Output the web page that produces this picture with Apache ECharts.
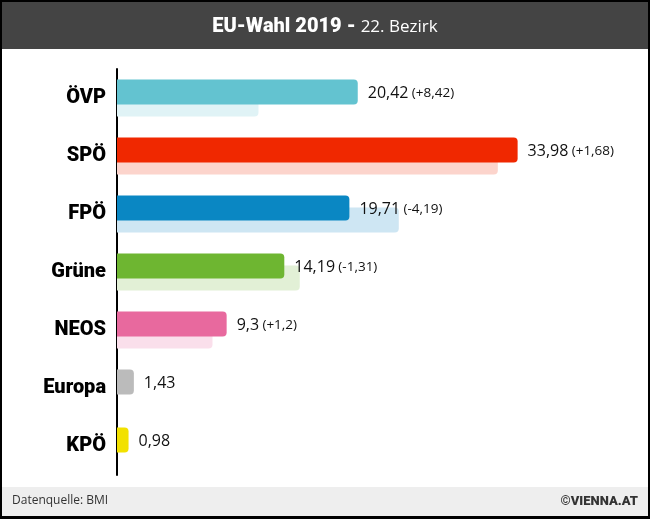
<!DOCTYPE html>
<html>
<head>
<meta charset="utf-8">
<script src="https://cdn.jsdelivr.net/npm/echarts@6/dist/echarts.min.js"></script>
<style>
html,body{margin:0;padding:0;background:#000;}
#c{width:650px;height:519px;}
</style>
</head>
<body>
<div id="c"></div>
<script>
// ---- data ----
var categories = ['ÖVP', 'SPÖ', 'FPÖ', 'Grüne', 'NEOS', 'Europa', 'KPÖ'];
var values2019 = [20.42, 33.98, 19.71, 14.19, 9.3, 1.43, 0.98];
var changeLabels = ['+8,42', '+1,68', '-4,19', '-1,31', '+1,2', null, null];
var previousValues = [12.00, 32.30, 23.90, 15.50, 8.10, null, null];
var mainColors = ['#63C3D0', '#F02800', '#0A87C3', '#6EB631', '#E8699E', '#BBBBBB', '#F2E100'];
var lightColors = ['#E0F3F6', '#FCD4CC', '#CEE6F3', '#E2F0D6', '#FADFEB', '#EEEEEE', '#FCF8CC'];

var heavy = 'Roboto, sans-serif';
var heavyWeight = 900;
var body = '"Open Sans", "Noto Sans", sans-serif';

var chart = echarts.init(document.getElementById('c'), null, {renderer: 'canvas'});

var mainData = values2019.map(function (v, i) {
  return {value: v, itemStyle: {color: mainColors[i]}};
});
var prevData = previousValues.map(function (v, i) {
  return {value: v, itemStyle: {color: lightColors[i]}};
});

chart.setOption({
  backgroundColor: '#000',
  animation: false,
  graphic: [
    {type: 'rect', shape: {x: 2, y: 2, width: 646, height: 514}, style: {fill: '#fff'}, z: -10, silent: true},
    {type: 'rect', shape: {x: 2, y: 2, width: 646, height: 47}, style: {fill: '#444444'}, z: -9, silent: true},
    {type: 'rect', shape: {x: 2, y: 487, width: 646, height: 29}, style: {fill: '#EEEEEE'}, z: -9, silent: true},
    {type: 'text', left: 12, top: 495, style: {text: 'Datenquelle: BMI', font: '12px ' + body, fill: '#333'}},
    {type: 'text', right: 12, top: 495, style: {text: '©VIENNA.AT', font: '900 13px ' + heavy, fill: '#333'}}
  ],
  title: {
    text: '{b|EU-Wahl 2019 -} {r|22. Bezirk}',
    left: 'center',
    top: 12,
    textStyle: {
      fontWeight: 'normal',
      rich: {
        b: {fontFamily: heavy, fontWeight: heavyWeight, fontSize: 20, color: '#fff'},
        r: {fontFamily: body, fontWeight: 'normal', fontSize: 17, color: '#fff'}
      }
    }
  },
  grid: {left: 117, top: 69, width: 471.6, height: 406, containLabel: false},
  xAxis: {
    type: 'value', min: 0, max: 40,
    show: false
  },
  yAxis: {
    type: 'category',
    data: categories,
    inverse: true,
    axisLine: {show: true, lineStyle: {color: '#000', width: 2}},
    axisTick: {show: false},
    axisLabel: {
      margin: 11,
      fontFamily: heavy, fontWeight: heavyWeight, fontSize: 20, color: '#000'
    }
  },
  series: [
    {
      type: 'bar',
      name: '2019',
      data: mainData,
      barWidth: 25,
      barGap: '-52%',
      z: 3,
      itemStyle: {borderRadius: [0, 4, 4, 0]},
      label: {
        show: true,
        position: 'right',
        distance: 10,
        formatter: function (p) {
          var s = '{a|' + String(values2019[p.dataIndex]).replace('.', ',') + '}';
          var c = changeLabels[p.dataIndex];
          if (c) s += ' {b|(' + c + ')}';
          return s;
        },
        rich: {
          a: {fontFamily: body, fontSize: 16, color: '#111', padding: [2, 0, 0, 0]},
          b: {fontFamily: body, fontSize: 13.5, color: '#111', padding: [2, 0, 0, 0]}
        }
      }
    },
    {
      type: 'bar',
      name: '2014',
      data: prevData,
      barWidth: 25,
      barGap: '-52%',
      z: 2,
      itemStyle: {borderRadius: [0, 4, 4, 0]}
    }
  ]
});
</script>
</body>
</html>
